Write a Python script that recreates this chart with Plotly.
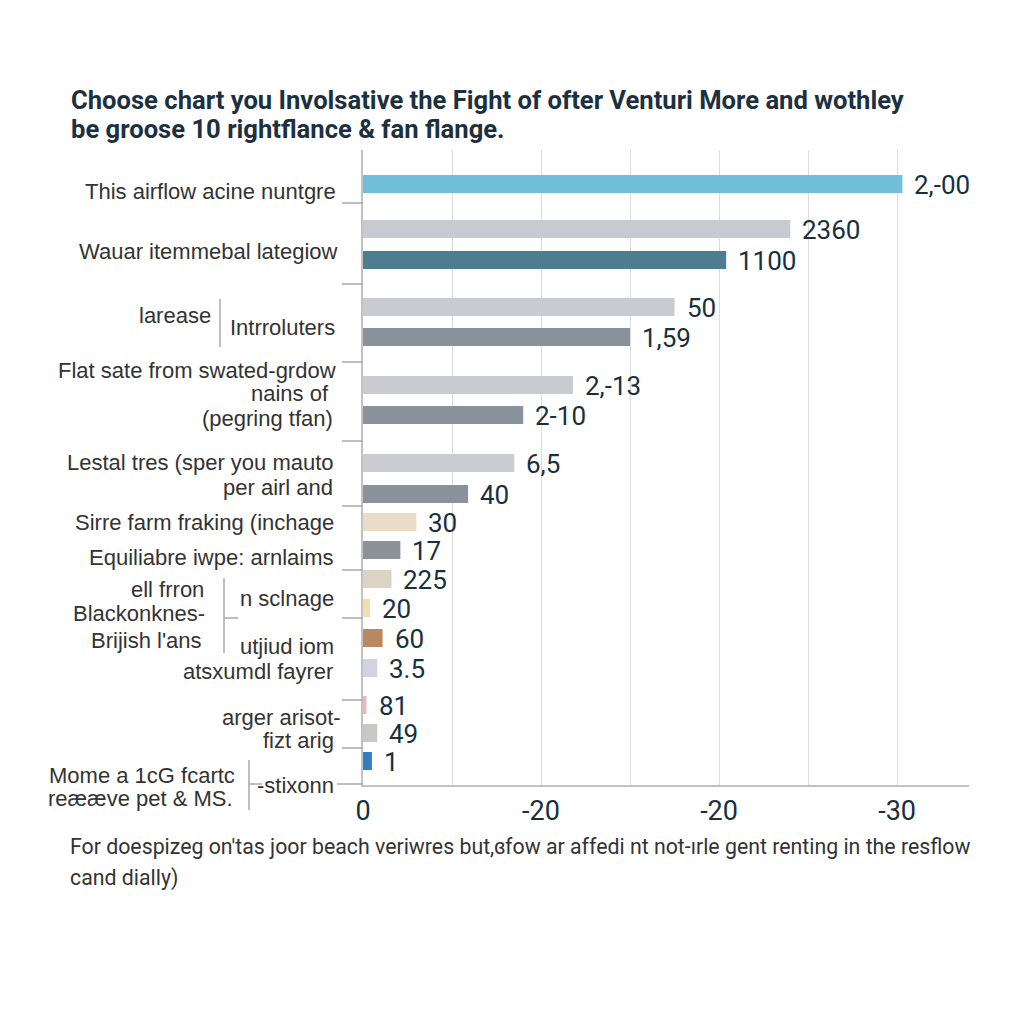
import plotly.graph_objects as go

# ---------------- data ----------------
bar_values = [30.3, 24.0, 20.4, 17.5, 15.0, 11.8, 9.0, 8.5, 5.9,
              3.0, 2.1, 1.6, 0.4, 1.1, 0.8, 0.2, 0.8, 0.5]
value_labels = ["2,-00", "2360", "1100", "50", "1,59", "2,-13", "2-10", "6,5", "40",
                "30", "17", "225", "20", "60", "3.5", "81", "49", "1"]
tick_values = [0, 5, 10, 15, 20, 25, 30]
tick_labels = ["0", "", "-20", "", "-20", "", "-30"]
category_labels = [
    "This airflow acine nuntgre",
    "Wauar itemmebal lategiow",
    "larease", "Intrroluters",
    "Flat sate from swated-grdow", "nains of", "(pegring tfan)",
    "Lestal tres (sper you mauto", "per airl and",
    "Sirre farm fraking (inchage",
    "Equiliabre iwpe: arnlaims",
    "ell frron", "Blackonknes-", "Brijish l'ans",
    "n sclnage", "utjiud iom", "atsxumdl fayrer",
    "arger arisot-", "fizt arig",
    "Mome a 1cG fcartc", "reææve pet & MS.", "-stixonn",
]
title_lines = ["Choose chart you Involsative the Fight of ofter Venturi More and wothley",
               "be groose 10 rightflance & fan flange."]
footer_lines = ["For doespizeg on'tas joor beach veriwres but,ɞfow ar affedi nt not-ırle gent renting in the resflow",
                "cand dially)"]

# ---------------- styling / layout ----------------
bar_colors = ["#72bfdc", "#c8cad1", "#4d7d91", "#c9cbd1", "#88929b", "#c9cbd0", "#8a939c",
              "#cbcdd2", "#8a939c", "#ebdcc6", "#8d9299", "#dcd3c5", "#f4dda6", "#bb875f",
              "#d1d3de", "#e7b9c3", "#c8c8c6", "#2f7fc0"]
# row centres (pixels below plot top)
row_y = [34, 79, 110, 157, 187, 235, 265, 313, 344, 372, 400, 429, 458, 488, 518, 555, 583, 611]
# label placement: (right edge px, centre y px)
label_pos = [(338, 192), (340, 251), (213, 315), (337, 327), (338, 370), (331, 393), (335, 418),
             (336, 462), (335, 487), (336, 522), (336, 557), (206, 589), (207, 613), (204, 640),
             (336, 598), (336, 646), (335, 671), (343, 717), (336, 740), (237, 775), (235, 798),
             (336, 785)]

L, R, T, B = 363, 969, 150, 785
W, H = R - L, B - T


def px(x):
    return (x - L) / W


def py(y):
    return (B - y) / H


NARROW = "Roboto, sans-serif"
SANS = "Liberation Sans, Arial, sans-serif"
DARK = "#17303f"

fig = go.Figure(go.Bar(
    x=bar_values, y=row_y, orientation="h", width=18,
    marker=dict(color=bar_colors, line=dict(width=0)),
    hoverinfo="skip",
))

ann = []
for v, t, y in zip(bar_values, value_labels, row_y):
    ann.append(dict(x=v, y=y + 1, xref="x", yref="y", text=t, showarrow=False,
                    xanchor="left", yanchor="middle", xshift=10,
                    font=dict(family=NARROW, size=26, color=DARK)))

for t, (xr, yc) in zip(category_labels, label_pos):
    ann.append(dict(x=px(xr), y=py(yc), xref="paper", yref="paper", text=t, showarrow=False,
                    xanchor="right", yanchor="middle",
                    font=dict(family=SANS, size=22, color="#333333")))

for i, t in enumerate(title_lines):
    ann.append(dict(x=px(69), y=py(100 + 29 * i), xref="paper", yref="paper", text=t,
                    showarrow=False, xanchor="left", yanchor="middle",
                    font=dict(family=NARROW, size=25.6, color="#1c3040", weight="bold")))

for i, t in enumerate(footer_lines):
    ann.append(dict(x=px(68), y=py(846 + 32 * i), xref="paper", yref="paper", text=t,
                    showarrow=False, xanchor="left", yanchor="middle",
                    font=dict(family=NARROW, size=21.3, color="#333333")))

LINE = dict(color="#a8a8a8", width=1.5)
shapes = []
for sy in [203, 284, 362, 441, 506, 570, 618, 700, 748]:
    shapes.append(dict(type="line", xref="paper", yref="paper",
                       x0=px(342), x1=px(363), y0=py(sy), y1=py(sy), line=LINE))
shapes += [
    dict(type="line", xref="paper", yref="paper", x0=px(337), x1=px(363), y0=py(784), y1=py(784), line=LINE),
    dict(type="line", xref="paper", yref="paper", x0=px(249), x1=px(262), y0=py(784), y1=py(784), line=LINE),
    dict(type="line", xref="paper", yref="paper", x0=px(224), x1=px(238), y0=py(618), y1=py(618), line=LINE),
    dict(type="line", xref="paper", yref="paper", x0=px(220), x1=px(220), y0=py(299), y1=py(347), line=LINE),
    dict(type="line", xref="paper", yref="paper", x0=px(224), x1=px(224), y0=py(578), y1=py(653), line=LINE),
    dict(type="line", xref="paper", yref="paper", x0=px(249), x1=px(249), y0=py(760), y1=py(810), line=LINE),
]

fig.update_layout(
    width=1024, height=1024,
    margin=dict(l=L, r=1024 - R, t=T, b=1024 - B, pad=0),
    paper_bgcolor="white", plot_bgcolor="white",
    showlegend=False,
    annotations=ann, shapes=shapes,
    xaxis=dict(range=[0, 34.04], tickvals=tick_values, ticktext=tick_labels,
               showgrid=True, gridcolor="#dcdcdc", gridwidth=1,
               showline=True, linecolor="#c2c2c2", linewidth=2, zeroline=False,
               ticks="", ticklabelstandoff=1,
               tickfont=dict(family=NARROW, size=27, color=DARK)),
    yaxis=dict(range=[H, 0], showticklabels=False, showgrid=False,
               showline=True, linecolor="#c2c2c2", linewidth=2, zeroline=False, ticks=""),
)

fig.write_html("out.html")
